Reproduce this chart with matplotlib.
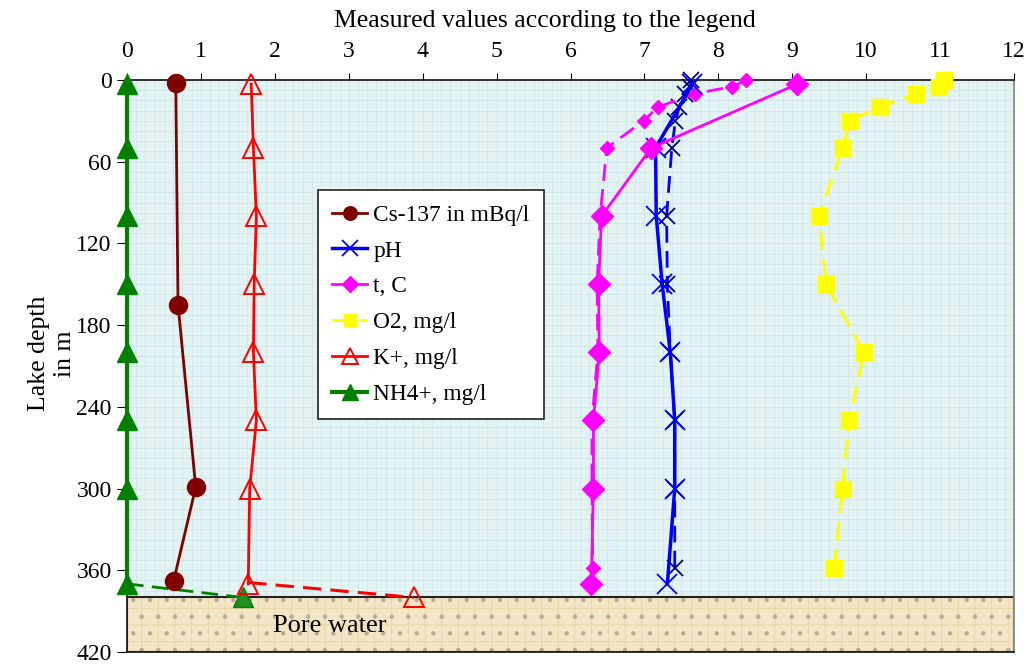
import matplotlib.pyplot as plt
from matplotlib.patches import Rectangle
from matplotlib.ticker import MultipleLocator

plt.rcParams['font.family'] = ['Liberation Serif', 'DejaVu Serif']
plt.rcParams['hatch.linewidth'] = 0.7

# main sampling stations (depth in m)
depth_main = [3, 50, 100, 150, 200, 250, 300, 370]
nh4 = [0, 0, 0, 0, 0, 0, 0, 0]
k_plus = [1.68, 1.71, 1.75, 1.72, 1.71, 1.75, 1.66, 1.64]
ph_main = [7.65, 7.15, 7.16, 7.24, 7.35, 7.41, 7.41, 7.31]
t_main = [9.07, 7.09, 6.42, 6.38, 6.39, 6.31, 6.31, 6.28]

# Cs-137 profile
depth_cs = [2, 165, 299, 368]
cs137 = [0.66, 0.69, 0.93, 0.63]

# detailed profile (dashed lines)
depth_fine = [0, 5, 10, 20, 30, 50, 100, 150, 200, 250, 300, 358]
o2 = [11.05, 10.99, 10.68, 10.18, 9.78, 9.68, 9.36, 9.46, 9.97, 9.77, 9.68, 9.57]
t_fine = [8.38, 8.19, 7.68, 7.18, 6.99, 6.49, 6.40, 6.36, 6.37, 6.29, 6.29, 6.30]
ph_fine = [7.63, 7.62, 7.55, 7.47, 7.42, 7.37, 7.30, 7.31, 7.35, 7.41, 7.41, 7.41]

# pore water samples
depth_pore = [370, 380]
nh4_pore = [0, 1.57]
depth_k_pore = [369, 380]
k_pore = [1.64, 3.88]

pore_top, pore_bottom = 380, 420

fig = plt.figure(figsize=(10.3, 6.65), dpi=100)
ax = fig.add_axes([0.1233, 0.0196, 0.8612, 0.8602])
ax.set_facecolor('#e3f3f3')

# fine background grid
ax.set_axisbelow(True)
ax.xaxis.set_minor_locator(MultipleLocator(0.125))
ax.yaxis.set_minor_locator(MultipleLocator(7.5))
ax.grid(which='both', color='#cfe7e7', lw=0.6)
ax.tick_params(which='minor', length=0)

# pore water layer
ax.add_patch(Rectangle((0, pore_top), 12, pore_bottom - pore_top,
                       facecolor='#f3e6c6', edgecolor='none', zorder=0.8))
ax.add_patch(Rectangle((0, pore_top), 12, pore_bottom - pore_top,
                       fill=False, hatch='+', edgecolor='#e8d6a6', lw=0, zorder=0.9))
ax.add_patch(Rectangle((0, pore_top), 12, pore_bottom - pore_top,
                       fill=False, hatch='.', edgecolor='#b5ab96', lw=0, zorder=0.9))
ax.add_patch(Rectangle((0, pore_top), 12, pore_bottom - pore_top,
                       fill=False, edgecolor='#222222', lw=1.5, zorder=1))
ax.text(1.97, 401, 'Pore water', fontsize=19, va='center', ha='left', zorder=2)

# dashed lines of the detailed profile
ax.plot(ph_fine, depth_fine, color='#0000ff', lw=2, ls=(0, (6, 3)),
        marker='x', ms=11, mew=1.3, mec='#000080', clip_on=False, zorder=3)
ax.plot(t_fine, depth_fine, color='#ff00ff', lw=2, ls=(0, (6, 3)),
        marker='D', ms=7, mec='#ff00ff', mfc='#ff00ff', clip_on=False, zorder=3)
ax.plot(o2, depth_fine, color='#ffff00', lw=2.2, ls=(0, (6, 3)),
        marker='s', ms=12, mec='#ffff00', mfc='#ffff00', clip_on=False, zorder=3,
        label='O2, mg/l')

# pore water links
ax.plot(nh4_pore, depth_pore, color='#008000', lw=2, ls=(0, (6, 3)),
        clip_on=False, zorder=3)
ax.plot(nh4_pore[1:], depth_pore[1:], ls='none', marker='^', ms=15,
        mfc='#1f8f1f', mec='#008000', clip_on=False, zorder=4)
ax.plot(k_pore, depth_k_pore, color='#ff0000', lw=2.2, ls=(0, (6, 3)),
        clip_on=False, zorder=3)
ax.plot(k_pore[1:], depth_k_pore[1:], ls='none', marker='^', ms=15,
        mfc='none', mec='#ff0000', mew=1.4, clip_on=False, zorder=4)

# main profiles
ax.plot(cs137, depth_cs, color='#800000', lw=2, marker='o', ms=13,
        clip_on=False, zorder=5, label='Cs-137 in mBq/l')
ax.plot(ph_main, depth_main, color='#0000ff', lw=2.5, marker='x', ms=15,
        mew=1.3, clip_on=False, zorder=5, label='pH')
ax.plot(t_main, depth_main, color='#ff00ff', lw=2, marker='D', ms=11,
        clip_on=False, zorder=5, label='t, C')
ax.plot(k_plus, depth_main, color='#ff0000', lw=2, marker='^', ms=15,
        mfc='none', mew=1.4, clip_on=False, zorder=5, label='K+, mg/l')
ax.plot(nh4, depth_main, color='#008000', lw=3, marker='^', ms=15,
        clip_on=False, zorder=5, label='NH4+, mg/l')

ax.set_xlim(0, 12)
ax.set_ylim(420, 0)
ax.set_xticks(range(0, 13))
ax.set_yticks(range(0, 421, 60))
ax.xaxis.tick_top()
ax.xaxis.set_label_position('top')
ax.tick_params(axis='x', which='major', length=5, pad=8, labelsize=17)
ax.tick_params(axis='y', which='major', length=7, pad=4, labelsize=17)

for side in ['top', 'left', 'bottom']:
    ax.spines[side].set_color('#222222')
    ax.spines[side].set_linewidth(1.3)
ax.spines['right'].set_color('#8c8c8c')
ax.spines['right'].set_linewidth(1.3)

ax.set_xlabel('Measured values according to the legend', fontsize=18.5)
ax.xaxis.set_label_coords(0.471, 1.092)
ax.set_ylabel('Lake depth\nin m', fontsize=18.5, multialignment='center')
ax.yaxis.set_label_coords(-0.058, 0.522)

handles, labels = ax.get_legend_handles_labels()
order = ['Cs-137 in mBq/l', 'pH', 't, C', 'O2, mg/l', 'K+, mg/l', 'NH4+, mg/l']
hmap = dict(zip(labels, handles))
leg = ax.legend([hmap[k] for k in order], order, loc='upper left',
                bbox_to_anchor=(318 / 1030, 1 - 190 / 665),
                bbox_transform=fig.transFigure, fontsize=16.8,
                frameon=True, fancybox=False, edgecolor='#222222',
                framealpha=1, handlelength=1.5, handletextpad=0.25,
                labelspacing=0.62, borderpad=0.62, borderaxespad=0,
                markerscale=0.75)
leg.get_frame().set_linewidth(1.2)
leg.set_zorder(6)

fig.savefig('out.png', dpi=100)
